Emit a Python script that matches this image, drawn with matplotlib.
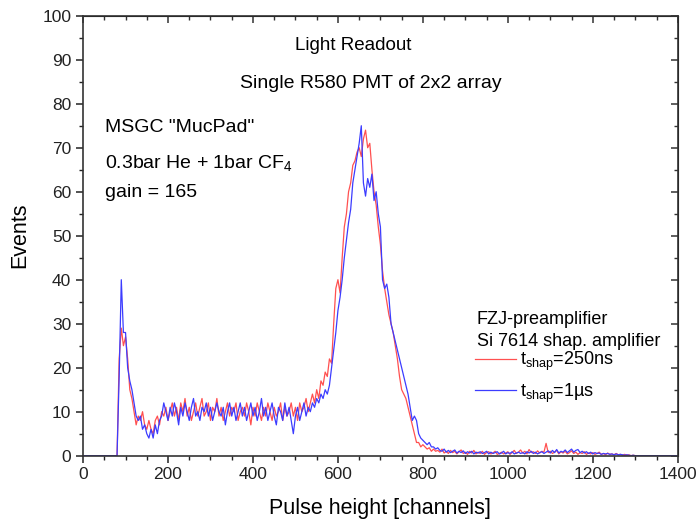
import numpy as np
import matplotlib
matplotlib.use("Agg")
import matplotlib.pyplot as plt
from matplotlib.ticker import MultipleLocator

plt.rcParams['font.family'] = ['Liberation Sans', 'DejaVu Sans']
plt.rcParams['mathtext.default'] = 'regular'

###Spectra, one value every 5 channels
step = 5
# channels 0..80 -> empty
zero_head = [0] * 17
# channels 85..830
red_peak = [22, 29, 25, 27, 22, 15, 13, 10, 7, 9,
            8, 10, 7, 6, 8, 6, 5, 8, 9, 7,
            10, 9, 11, 8, 10, 12, 9, 11, 8, 12,
            10, 13, 9, 11, 8, 10, 12, 9, 11, 13,
            9, 10, 12, 8, 11, 10, 13, 9, 11, 8,
            10, 12, 9, 11, 10, 12, 8, 10, 11, 9,
            12, 10, 7, 11, 9, 12, 10, 8, 11, 9,
            12, 10, 8, 11, 9, 10, 12, 8, 11, 9,
            10, 12, 9, 11, 8, 12, 10, 11, 13, 10,
            12, 14, 12, 15, 13, 17, 16, 19, 18, 22,
            21, 30, 38, 40, 37, 45, 52, 55, 60, 62,
            66, 67, 69, 70, 68, 72, 74, 70, 71, 65,
            60, 57, 52, 48, 42, 38, 35, 32, 30, 28,
            25, 22, 18, 15, 14, 13, 11, 9, 7, 5,
            3, 3, 2, 2.5, 2, 1.5, 1.8, 1, 1.5, 1]
blue_peak = [18, 40, 28, 28, 20, 17, 15, 12, 9, 8,
             9, 6, 7, 5, 4, 6, 4, 7, 5, 8,
             9, 12, 10, 8, 11, 9, 12, 10, 7, 11,
             9, 12, 10, 8, 11, 13, 9, 10, 8, 11,
             10, 12, 9, 11, 8, 10, 12, 10, 9, 11,
             7, 10, 12, 9, 11, 8, 10, 12, 9, 11,
             8, 10, 12, 9, 11, 8, 10, 13, 9, 11,
             8, 10, 12, 9, 7, 11, 10, 8, 12, 9,
             11, 8, 5, 9, 11, 8, 10, 12, 9, 11,
             10, 12, 11, 13, 12, 14, 13, 15, 14, 16,
             20, 24, 28, 33, 36, 40, 45, 49, 53, 56,
             62, 65, 68, 71, 75, 62, 59, 63, 61, 64,
             58, 60, 55, 52, 40, 38, 39, 36, 30, 28,
             26, 24, 22, 20, 18, 16, 14, 11, 8, 9,
             8, 5, 4, 3.5, 3, 2.5, 3, 2, 2, 1.5]
# channels 835..1330
red_tail = [1.2, 0.8, 1.5, 0.6, 1.0, 0.5, 1.2, 0.7, 1.0, 0.4,
            0.9, 1.3, 0.5, 0.8, 0.3, 1.0, 0.6, 1.2, 0.4, 0.8,
            0.5, 1.0, 0.3, 0.7, 0.9, 0.4, 0.6, 1.0, 0.3, 0.5,
            0.8, 0.4, 0.6, 0.9, 0.3, 0.7, 1.2, 0.5, 0.8, 1.3,
            0.6, 1.0, 0.4, 1.4, 0.7, 0.9, 0.5, 1.1, 0.6, 1.0,
            0.8, 2.8, 0.7, 1.0, 0.5, 0.8, 1.2, 0.4, 0.9, 0.6,
            1.0, 0.4, 0.7, 1.1, 0.5, 0.8, 0.3, 0.7, 0.5, 0.9,
            0.3, 0.6, 0.4, 0.7, 0.3, 0.5, 0.8, 0.3, 0.5, 0.2,
            0.6, 0.3, 0.4, 0.2, 0.5, 0.2, 0.3, 0.1, 0.3, 0.1,
            0.2, 0, 0.1, 0, 0, 0, 0, 0, 0, 0]
blue_tail = [1.8, 1.2, 1.0, 1.5, 0.8, 1.2, 0.7, 1.0, 1.3, 0.6,
             1.0, 0.7, 1.1, 0.5, 0.9, 0.6, 1.0, 0.4, 0.8, 0.6,
             0.9, 0.5, 0.7, 1.0, 0.4, 0.8, 0.5, 0.7, 0.9, 0.4,
             0.6, 1.0, 0.4, 0.7, 0.5, 0.9, 0.4, 0.6, 0.8, 0.5,
             0.7, 0.4, 0.9, 0.6, 1.0, 0.5, 0.8, 0.4, 0.7, 0.9,
             0.5, 0.8, 1.1, 0.6, 1.2, 0.7, 1.4, 0.6, 1.0, 0.8,
             1.3, 0.7, 1.1, 1.5, 0.8, 1.2, 1.4, 0.7, 1.0, 0.6,
             0.9, 0.5, 0.8, 0.4, 0.7, 0.5, 0.6, 0.3, 0.5, 0.4,
             0.5, 0.3, 0.4, 0.2, 0.4, 0.2, 0.3, 0.2, 0.1, 0.2,
             0.1, 0, 0.1, 0, 0, 0, 0, 0, 0, 0]
# channels 1335..1400
zero_end = [0] * 14

red = np.array(zero_head + red_peak + red_tail + zero_end, dtype=float)
blue = np.array(zero_head + blue_peak + blue_tail + zero_end, dtype=float)
channels = np.arange(len(red)) * step

fig = plt.figure(figsize=(6.98, 5.2), dpi=100)
ax = fig.add_axes([0.119, 0.1237, 0.852, 0.846])

ax.plot(channels, red, color='#ff5050', lw=0.9, label=r'$t_{shap}$=250ns')
ax.plot(channels, blue, color='#3c3cff', lw=0.9, label=r'$t_{shap}$=1µs')

ax.set_xlim(0, 1400)
ax.set_ylim(0, 100)
ax.xaxis.set_major_locator(MultipleLocator(200))
ax.xaxis.set_minor_locator(MultipleLocator(50))
ax.yaxis.set_major_locator(MultipleLocator(10))
ax.yaxis.set_minor_locator(MultipleLocator(5))
ax.tick_params(which='major', direction='out', length=5, width=1.1, labelsize=12.5, colors='#222222')
ax.tick_params(which='minor', direction='out', length=3, width=1.0, colors='#222222')
for s in ax.spines.values():
    s.set_linewidth(1.2)
    s.set_color('#333333')

## mirror ticks on top and right, pointing inwards
top = ax.secondary_xaxis('top')
top.xaxis.set_major_locator(MultipleLocator(200))
top.xaxis.set_minor_locator(MultipleLocator(50))
top.tick_params(which='major', direction='in', length=5, width=1.1, labeltop=False, colors='#333333')
top.tick_params(which='minor', direction='in', length=3, width=1.0, colors='#333333')
right = ax.secondary_yaxis('right')
right.yaxis.set_major_locator(MultipleLocator(10))
right.yaxis.set_minor_locator(MultipleLocator(5))
right.tick_params(which='major', direction='in', length=5, width=1.1, labelright=False, colors='#333333')
right.tick_params(which='minor', direction='in', length=3, width=1.0, colors='#333333')

ax.set_xlabel('Pulse height [channels]', fontsize=15.5, labelpad=11)
ax.set_ylabel('Events', fontsize=15.5, labelpad=9)

ax.text(0.356, 0.922, 'Light Readout', transform=ax.transAxes, ha='left', va='baseline', fontsize=13.5)
ax.text(0.264, 0.836, 'Single R580 PMT of 2x2 array', transform=ax.transAxes, ha='left', va='baseline', fontsize=14)
ax.text(0.037, 0.736, 'MSGC "MucPad"', transform=ax.transAxes, ha='left', va='baseline', fontsize=14)
ax.text(0.037, 0.654, r'0.3bar He + 1bar CF$_4$', transform=ax.transAxes, ha='left', va='baseline', fontsize=14)
ax.text(0.037, 0.588, 'gain = 165', transform=ax.transAxes, ha='left', va='baseline', fontsize=14)

## legend block
ax.text(0.662, 0.3, 'FZJ-preamplifier', transform=ax.transAxes, ha='left', va='baseline', fontsize=13)
ax.text(0.662, 0.25, 'Si 7614 shap. amplifier', transform=ax.transAxes, ha='left', va='baseline', fontsize=13)
ax.legend(loc='upper left', bbox_to_anchor=(0.659, 0.24), frameon=False, fontsize=13,
          handlelength=2.3, handletextpad=0.2, labelspacing=0.45, borderpad=0, borderaxespad=0)

plt.savefig('out.png', dpi=100)
